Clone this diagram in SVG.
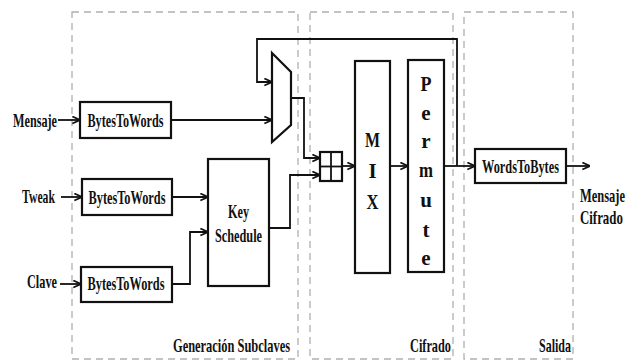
<svg xmlns="http://www.w3.org/2000/svg" width="635" height="362" viewBox="0 0 635 362">
<style>
.zone{fill:none;stroke:#b0b0b0;stroke-width:1.3;stroke-dasharray:7,5}
.box{fill:#fff;stroke:#111;stroke-width:2.2}
.ln{fill:none;stroke:#111;stroke-width:1.8}
.t{font-family:"Liberation Serif","Times New Roman",serif;font-weight:bold;font-size:19.5px;fill:#111}
.big{font-size:21px}
.c{text-anchor:middle}
.e{text-anchor:end}
</style>
<defs>
<marker id="arr" viewBox="0 0 10 10" refX="9.5" refY="5" markerWidth="9" markerHeight="9" markerUnits="userSpaceOnUse" orient="auto">
<path d="M1,1 L9.5,5 L1,9" fill="none" stroke="#111" stroke-width="1.8"/>
</marker>
</defs>
<rect width="635" height="362" fill="#fff"/>
<g id="zones">
<rect class="zone" x="72" y="12" width="226" height="347"/>
<rect class="zone" x="310" y="12" width="143" height="347"/>
<rect class="zone" x="464" y="12" width="109" height="347"/>
<text class="t e" x="290" y="352" textLength="117" lengthAdjust="spacingAndGlyphs">Generación Subclaves</text>
<text class="t e" x="451" y="352" textLength="41" lengthAdjust="spacingAndGlyphs">Cifrado</text>
<text class="t e" x="571" y="352" textLength="32" lengthAdjust="spacingAndGlyphs">Salida</text>
</g>
<g id="inputs">
<text class="t e" x="57" y="127" textLength="44" lengthAdjust="spacingAndGlyphs">Mensaje</text>
<text class="t e" x="55" y="203" textLength="33" lengthAdjust="spacingAndGlyphs">Tweak</text>
<text class="t e" x="57" y="288" textLength="30" lengthAdjust="spacingAndGlyphs">Clave</text>
</g>
<g id="btw-mensaje">
<rect class="box" x="80" y="102" width="91" height="36"/>
<text class="t c" x="125.5" y="127" textLength="76" lengthAdjust="spacingAndGlyphs">BytesToWords</text>
</g>
<g id="btw-tweak">
<rect class="box" x="82" y="179" width="90" height="36"/>
<text class="t c" x="127" y="204" textLength="77" lengthAdjust="spacingAndGlyphs">BytesToWords</text>
</g>
<g id="btw-clave">
<rect class="box" x="81" y="267" width="91" height="35"/>
<text class="t c" x="126" y="290" textLength="77" lengthAdjust="spacingAndGlyphs">BytesToWords</text>
</g>
<g id="key-schedule">
<rect class="box" x="208" y="159" width="61" height="127"/>
<text class="t c" x="238.5" y="218" textLength="21" lengthAdjust="spacingAndGlyphs">Key</text>
<text class="t c" x="238.5" y="242" textLength="47" lengthAdjust="spacingAndGlyphs">Schedule</text>
</g>
<g id="mux">
<polygon class="box" points="272,53 291,72 291,125 272,142"/>
</g>
<g id="adder">
<rect class="box" x="320" y="152" width="22" height="29"/>
<line class="ln" x1="331" y1="152" x2="331" y2="181" stroke-width="2.2"/>
<line class="ln" x1="320" y1="166.5" x2="342" y2="166.5" stroke-width="2.2"/>
</g>
<g id="mix">
<rect class="box" x="355" y="61" width="35" height="212"/>
<text class="t big c" x="372.5" y="147" textLength="15" lengthAdjust="spacingAndGlyphs">M</text>
<text class="t big c" x="372.5" y="178">I</text>
<text class="t big c" x="372.5" y="209" textLength="12" lengthAdjust="spacingAndGlyphs">X</text>
</g>
<g id="permute">
<rect class="box" x="408" y="60" width="36" height="212"/>
<text class="t big c" x="426" y="91" textLength="11" lengthAdjust="spacingAndGlyphs">P</text>
<text class="t big c" x="426" y="120">e</text>
<text class="t big c" x="426" y="148">r</text>
<text class="t big c" x="426" y="177" textLength="14" lengthAdjust="spacingAndGlyphs">m</text>
<text class="t big c" x="426" y="207">u</text>
<text class="t big c" x="426" y="237">t</text>
<text class="t big c" x="426" y="265">e</text>
</g>
<g id="wtb">
<rect class="box" x="475" y="149" width="91" height="34"/>
<text class="t c" x="520.5" y="173" textLength="77" lengthAdjust="spacingAndGlyphs">WordsToBytes</text>
</g>
<g id="output">
<text class="t" transform="translate(580,202) scale(0.64,1)">Mensaje</text>
<text class="t" transform="translate(580,224) scale(0.66,1)">Cifrado</text>
</g>
<g id="connectors">
<path class="ln" d="M58,120 H80" marker-end="url(#arr)"/>
<path class="ln" d="M61,197 H82" marker-end="url(#arr)"/>
<path class="ln" d="M60,284 H81" marker-end="url(#arr)"/>
<path class="ln" d="M171,120 H272" marker-end="url(#arr)"/>
<path class="ln" d="M172,197 H208" marker-end="url(#arr)"/>
<path class="ln" d="M172,284 H190 V232 H208" marker-end="url(#arr)"/>
<path class="ln" d="M269,228 H290 V175 H320" marker-end="url(#arr)"/>
<path class="ln" d="M291,98 H304 V158 H320" marker-end="url(#arr)"/>
<path class="ln" d="M342,166 H355" marker-end="url(#arr)"/>
<path class="ln" d="M390,166 H408" marker-end="url(#arr)"/>
<path class="ln" d="M444,166 H475" marker-end="url(#arr)"/>
<path class="ln" d="M457,166 V39 H257 V82 H272" marker-end="url(#arr)"/>
<path class="ln" d="M566,166 H590" marker-end="url(#arr)"/>
</g>
</svg>
